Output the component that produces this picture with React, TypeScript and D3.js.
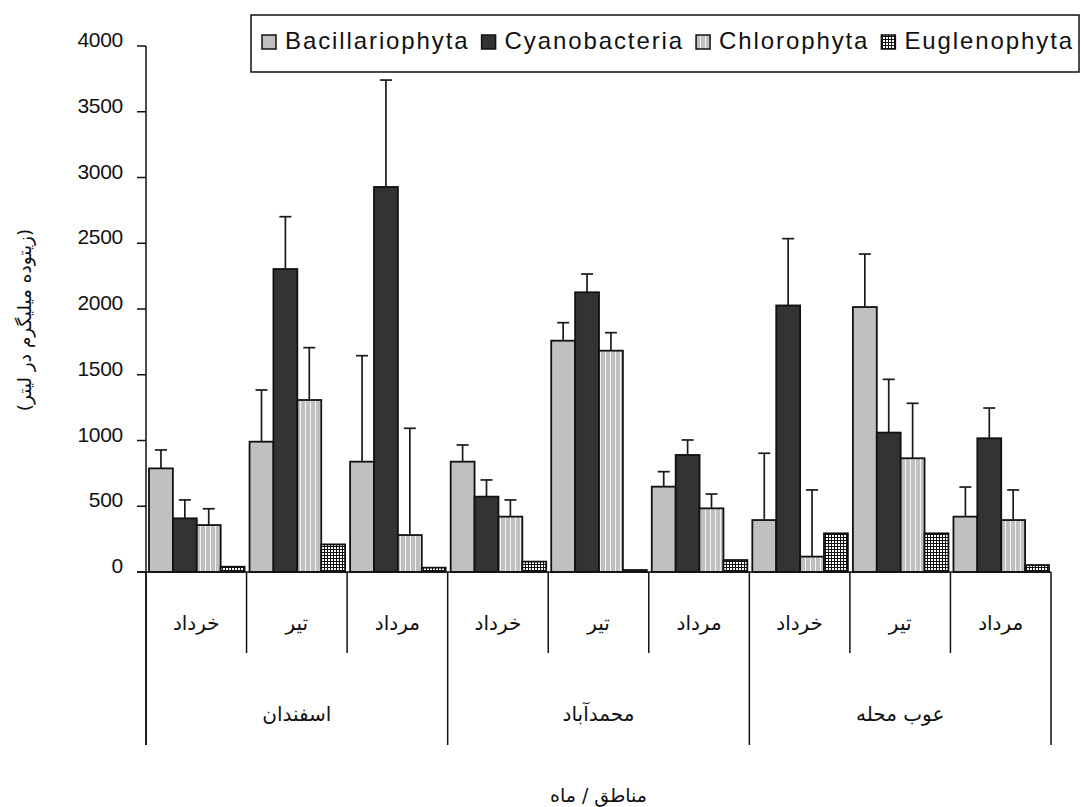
import React, { useEffect, useRef } from 'react';
import * as d3 from 'd3';

// categories
const regions = ['اسفندان', 'محمدآباد', 'عوب محله'];
const months = ['خرداد', 'تیر', 'مرداد'];
const seriesNames = ['Bacillariophyta', 'Cyanobacteria', 'Chlorophyta', 'Euglenophyta'];
const yTicks = [0, 500, 1000, 1500, 2000, 2500, 3000, 3500, 4000];

// means, in region/month order
const bacillariophyta = [788, 991, 839, 839, 1759, 649, 395, 2015, 421];
const cyanobacteria = [408, 2304, 2928, 573, 2127, 890, 2027, 1060, 1017];
const chlorophyta = [357, 1308, 281, 421, 1683, 484, 117, 865, 395];
const euglenophyta = [40, 210, 33, 79, 15, 91, 294, 294, 53];

// upper error bars
const bacillariophytaErr = [140, 393, 806, 127, 137, 114, 508, 403, 225];
const cyanobacteriaErr = [140, 398, 813, 127, 139, 114, 508, 405, 230];
const chlorophytaErr = [124, 398, 812, 127, 137, 109, 507, 418, 229];
const euglenophytaErr = [0, 0, 0, 0, 0, 0, 0, 0, 0];

const yLabel = '(زیتوده میلیگرم در لیتر)';
const xLabel = 'مناطق / ماه';

const W = 1081;
const H = 807;

export default function App() {
    const ref = useRef<SVGSVGElement>(null);

    useEffect(() => {
        const svg = d3.select(ref.current);
        svg.selectAll('*').remove();

        const left = 146, right = 1051, top = 46, bottom = 572;
        const values = [bacillariophyta, cyanobacteria, chlorophyta, euglenophyta];
        const errs = [bacillariophytaErr, cyanobacteriaErr, chlorophytaErr, euglenophytaErr];
        const fills = ['#c0c0c0', '#333333', 'url(#stripes)', 'url(#grid)'];
        const arFont = '"DejaVu Sans", sans-serif';
        const enFont = '"Liberation Sans", Arial, sans-serif';

        const defs = svg.append('defs');
        const stripes = defs.append('pattern').attr('id', 'stripes')
            .attr('patternUnits', 'userSpaceOnUse').attr('width', 5).attr('height', 5);
        stripes.append('rect').attr('width', 5).attr('height', 5).attr('fill', '#c0c0c0');
        stripes.append('rect').attr('x', 0).attr('width', 1).attr('height', 5).attr('fill', '#f4f4f4');
        const grid = defs.append('pattern').attr('id', 'grid')
            .attr('patternUnits', 'userSpaceOnUse').attr('width', 3).attr('height', 3);
        grid.append('rect').attr('width', 3).attr('height', 3).attr('fill', '#ffffff');
        grid.append('rect').attr('width', 3).attr('height', 1).attr('fill', '#111');
        grid.append('rect').attr('width', 1).attr('height', 3).attr('fill', '#111');

        const combos = d3.range(regions.length * months.length);
        const x = d3.scaleBand<number>().domain(combos).range([left, right]).padding(0);
        const inner = d3.scaleBand<string>().domain(seriesNames).range([3, x.bandwidth() - 2]).padding(0);
        const y = d3.scaleLinear().domain([0, 4000]).range([bottom, top]);

        // bars
        seriesNames.forEach((name, s) => {
            svg.append('g').selectAll('rect')
                .data(values[s])
                .enter()
                .append('rect')
                .attr('x', (d, i) => x(i)! + inner(name)!)
                .attr('y', d => y(d))
                .attr('width', inner.bandwidth())
                .attr('height', d => bottom - y(d))
                .attr('fill', fills[s])
                .attr('stroke', '#111')
                .attr('stroke-width', 1.8);
        });

        // error bars
        seriesNames.forEach((name, s) => {
            const g = svg.append('g');
            values[s].forEach((v, i) => {
                const e = errs[s][i];
                if (!e) return;
                const cx = x(i)! + inner(name)! + inner.bandwidth() / 2;
                g.append('line')
                    .attr('x1', cx).attr('x2', cx)
                    .attr('y1', y(v)).attr('y2', y(v + e))
                    .attr('stroke', '#1a1a1a').attr('stroke-width', 1.7);
                g.append('line')
                    .attr('x1', cx - 6).attr('x2', cx + 6)
                    .attr('y1', y(v + e)).attr('y2', y(v + e))
                    .attr('stroke', '#1a1a1a').attr('stroke-width', 1.7);
            });
        });

        // y axis
        svg.append('line')
            .attr('x1', left).attr('x2', left)
            .attr('y1', top).attr('y2', 745)
            .attr('stroke', '#111').attr('stroke-width', 1.5);
        svg.selectAll('.ytick')
            .data(yTicks)
            .enter()
            .append('line')
            .attr('x1', left - 9).attr('x2', left)
            .attr('y1', d => y(d)).attr('y2', d => y(d))
            .attr('stroke', '#111').attr('stroke-width', 1.5);
        svg.selectAll('.ylabel')
            .data(yTicks)
            .enter()
            .append('text')
            .attr('x', 123)
            .attr('y', d => y(d) + 1)
            .attr('text-anchor', 'end')
            .attr('font-family', enFont)
            .attr('font-size', '21px')
            .attr('letter-spacing', '-0.3')
            .attr('fill', '#111')
            .text(d => d);

        // category axis
        svg.append('line')
            .attr('x1', left - 9).attr('x2', right)
            .attr('y1', bottom).attr('y2', bottom)
            .attr('stroke', '#111').attr('stroke-width', 1.5);
        d3.range(combos.length + 1).forEach(i => {
            const bx = i < combos.length ? x(i)! : right;
            const regionEdge = i % months.length === 0;
            svg.append('line')
                .attr('x1', bx).attr('x2', bx)
                .attr('y1', bottom).attr('y2', regionEdge ? 745 : 653)
                .attr('stroke', '#111').attr('stroke-width', 1.5);
        });
        svg.selectAll('.month')
            .data(combos)
            .enter()
            .append('text')
            .attr('x', i => x(i)! + x.bandwidth() / 2)
            .attr('y', 630)
            .attr('text-anchor', 'middle')
            .attr('font-family', arFont)
            .attr('font-size', '20px')
            .attr('fill', '#111')
            .text(i => months[i % months.length]);
        svg.selectAll('.region')
            .data(regions)
            .enter()
            .append('text')
            .attr('x', (d, r) => x(r * months.length)! + x.bandwidth() * months.length / 2)
            .attr('y', 721)
            .attr('text-anchor', 'middle')
            .attr('font-family', arFont)
            .attr('font-size', '20px')
            .attr('fill', '#111')
            .text(d => d);

        // axis titles
        svg.append('text')
            .attr('transform', `translate(31, ${(top + bottom) / 2 + 11}) rotate(-90)`)
            .attr('text-anchor', 'middle')
            .attr('font-family', arFont)
            .attr('font-size', '18.5px')
            .attr('fill', '#111')
            .text(yLabel);
        svg.append('text')
            .attr('x', (left + right) / 2)
            .attr('y', 802)
            .attr('text-anchor', 'middle')
            .attr('font-family', arFont)
            .attr('font-size', '19px')
            .attr('fill', '#111')
            .text(xLabel);

        // legend
        svg.append('rect')
            .attr('x', 251).attr('y', 15)
            .attr('width', 828).attr('height', 57)
            .attr('fill', '#fff')
            .attr('stroke', '#111').attr('stroke-width', 1.5);
        let lx = 262;
        seriesNames.forEach((name, s) => {
            svg.append('rect')
                .attr('x', lx).attr('y', 35)
                .attr('width', 14).attr('height', 14)
                .attr('fill', fills[s])
                .attr('stroke', '#111').attr('stroke-width', 1.5);
            const t = svg.append('text')
                .attr('x', lx + 23).attr('y', 49)
                .attr('font-family', enFont)
                .attr('font-size', '24px')
                .attr('letter-spacing', '1.9')
                .attr('fill', '#111')
                .text(name);
            const w = (t.node() as SVGTextElement).getComputedTextLength();
            lx += 23 + w + 12;
        });
    }, []);

    return (
        <svg ref={ref} width={W} height={H} viewBox={`0 0 ${W} ${H}`}
            style={{ position: 'absolute', left: 0, top: 0, background: '#fff' }} />
    );
}
